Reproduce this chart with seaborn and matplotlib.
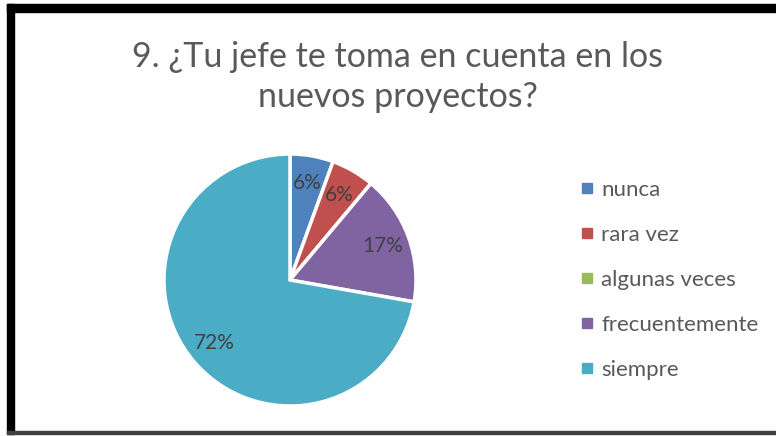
import matplotlib
matplotlib.use("Agg")
import matplotlib.pyplot as plt
import seaborn as sns
from matplotlib.lines import Line2D
from matplotlib.patches import Rectangle

sns.set_theme(style="white")
plt.rcParams['font.family'] = ['Lato', 'DejaVu Sans']

# datos
categorias = ['nunca', 'rara vez', 'algunas veces', 'frecuentemente', 'siempre']
respuestas = [1, 1, 0, 3, 13]
colores = ['#4F81BD', '#C0504D', '#9BBB59', '#8064A2', '#4BACC6']
titulo = '9. ¿Tu jefe te toma en cuenta en los\nnuevos proyectos?'

W, H = 776, 436
fig = plt.figure(figsize=(W / 100, H / 100), dpi=100)
fig.patch.set_facecolor('white')

# marco negro (recortado a la derecha como en la captura)
fig.patches.append(Rectangle((7 / W, 1 - 12 / H), 1, 8 / H, transform=fig.transFigure,
                             color='black', zorder=0))
fig.patches.append(Rectangle((7 / W, 1 - 434 / H), 7 / W, 430 / H, transform=fig.transFigure,
                             color='black', zorder=0))
fig.patches.append(Rectangle((7 / W, 1 - 434 / H), 1, 3 / H, transform=fig.transFigure,
                             color='#404040', zorder=0))

cx, cy, r = 290, 280, 126
ax = fig.add_axes([(cx - r) / W, (H - cy - r) / H, 2 * r / W, 2 * r / H])


def etiqueta(pct):
    return '' if pct < 0.5 else '{:.0f}%'.format(pct)


wedges, textos, pcts = ax.pie(respuestas, colors=colores, startangle=90, counterclock=False,
                              autopct=etiqueta, pctdistance=0.78,
                              wedgeprops=dict(edgecolor='white', linewidth=2.5),
                              textprops=dict(fontsize=15, color='#404040'))
ax.set_xlim(-1.0, 1.0)
ax.set_ylim(-1.0, 1.0)
ax.set_aspect('equal')
ax.axis('off')

fig.text(398 / W, 1 - 77 / H, titulo, ha='center', va='center', fontsize=24.5,
         color='#595959', linespacing=1.3)

handles = [Line2D([0], [0], marker='s', linestyle='', markersize=7, markerfacecolor=c,
                  markeredgecolor=c) for c in colores]
leg = fig.legend(handles, categorias, loc='center left', bbox_to_anchor=(577 / W, 1 - 280 / H),
                 frameon=False, fontsize=16, labelspacing=1.13, handletextpad=0.2,
                 handlelength=0.9, borderpad=0, borderaxespad=0)
for t in leg.get_texts():
    t.set_color('#595959')

fig.savefig('out.png', dpi=100, facecolor='white')
